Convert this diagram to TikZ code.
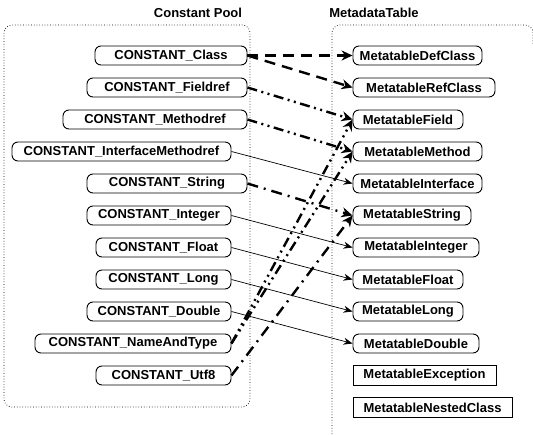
\documentclass[tikz,border=0pt]{standalone}
\usepackage{fontspec}
\setmainfont{Liberation Sans}
\usetikzlibrary{arrows.meta}
\begin{document}
\begin{tikzpicture}[x=1pt,y=-1pt,
  txt/.style={font=\fontsize{13}{15}\selectfont\bfseries},
  cbox/.style={txt,draw,line width=0.9pt,rounded corners=6pt,minimum height=19pt,inner sep=0pt},
  sbox/.style={txt,draw,line width=0.6pt,minimum height=20pt,inner sep=0pt},
  container/.style={draw,dotted,line width=0.7pt},
  thinarr/.style={line width=0.7pt,-{Stealth[length=9pt,width=7pt]}},
  thickarr/.style={line width=2.4pt,-{Stealth[length=11pt,width=10pt]}},
  dashline/.style={thickarr,dash pattern=on 11pt off 7pt},
  ddotline/.style={thickarr,dash pattern=on 10pt off 4.5pt on 2pt off 4.5pt on 2pt off 4.5pt},
  dotline/.style={thickarr,dash pattern=on 11pt off 6pt on 2pt off 6pt}]
\useasboundingbox (0,0) rectangle (533,434);
% containers
\draw[container,rounded corners=8pt] (4,25) rectangle (250,407);
\draw[container,rounded corners=8pt] (332,434) -- (332,25) -- (533,25) -- (533,45);
\node[txt] (t1) at (198,13) {Constant Pool};
\node[txt] (t2) at (374,13) {MetadataTable};
% left nodes
\node[cbox,minimum width=152pt] (lClass) at (171,55.5) {CONSTANT\_Class};
\node[cbox,minimum width=160pt] (lField) at (167,87.5) {CONSTANT\_Fieldref};
\node[cbox,minimum width=184pt] (lMeth) at (155,119.5) {CONSTANT\_Methodref};
\node[cbox,minimum width=219pt] (lIface) at (121.5,151.5) {CONSTANT\_InterfaceMethodref};
\node[cbox,minimum width=160pt] (lStr) at (167,183.5) {CONSTANT\_String};
\node[cbox,minimum width=144pt] (lInt) at (159,215.5) {CONSTANT\_Integer};
\node[cbox,minimum width=135pt] (lFlt) at (163.5,247.5) {CONSTANT\_Float};
\node[cbox,minimum width=135pt] (lLong) at (163.5,279.5) {CONSTANT\_Long};
\node[cbox,minimum width=144pt] (lDbl) at (159,311.5) {CONSTANT\_Double};
\node[cbox,minimum width=196pt] (lNT) at (133,343.5) {CONSTANT\_NameAndType};
\node[cbox,minimum width=135pt] (lUtf) at (163.5,375.5) {CONSTANT\_Utf8};
% right nodes
\node[cbox,minimum width=129pt] (rDef) at (417.5,55.5) {MetatableDefClass};
\node[cbox,minimum width=142pt] (rRef) at (424,87.5) {MetatableRefClass};
\node[cbox,minimum width=110pt] (rField) at (408,119.5) {MetatableField};
\node[cbox,minimum width=129pt] (rMeth) at (417.5,151.5) {MetatableMethod};
\node[cbox,minimum width=129pt] (rIface) at (417.5,183.5) {MetatableInterface};
\node[cbox,minimum width=118pt] (rStr) at (412,215.5) {MetatableString};
\node[cbox,minimum width=126pt] (rInt) at (416,247.5) {MetatableInteger};
\node[cbox,minimum width=110pt] (rFlt) at (408,279.5) {MetatableFloat};
\node[cbox,minimum width=110pt] (rLong) at (408,311.5) {MetatableLong};
\node[cbox,minimum width=126pt] (rDbl) at (416,343.5) {MetatableDouble};
\node[sbox,minimum width=143pt] (rExc) at (424.5,375.5) {MetatableException};
\node[sbox,minimum width=159pt] (rNest) at (432.5,407.5) {MetatableNestedClass};
% connectors
\draw[dashline] (lClass.east) -- (rDef.west);
\draw[dashline] (lClass.east) -- (rRef.west);
\draw[ddotline] (lField.east) -- (rField.west);
\draw[ddotline] (lMeth.east) -- (rMeth.west);
\draw[thinarr] (lIface.east) -- (rIface.west);
\draw[dotline] (lStr.east) -- (rStr.west);
\draw[thinarr] (lInt.east) -- (rInt.west);
\draw[thinarr] (lFlt.east) -- (rFlt.west);
\draw[thinarr] (lLong.east) -- (rLong.west);
\draw[thinarr] (lDbl.east) -- (rDbl.west);
\draw[ddotline] (lNT.east) -- (rField.west);
\draw[ddotline] (lNT.east) -- (rMeth.west);
\draw[dotline] (lUtf.east) -- (rStr.west);
\end{tikzpicture}
\end{document}
